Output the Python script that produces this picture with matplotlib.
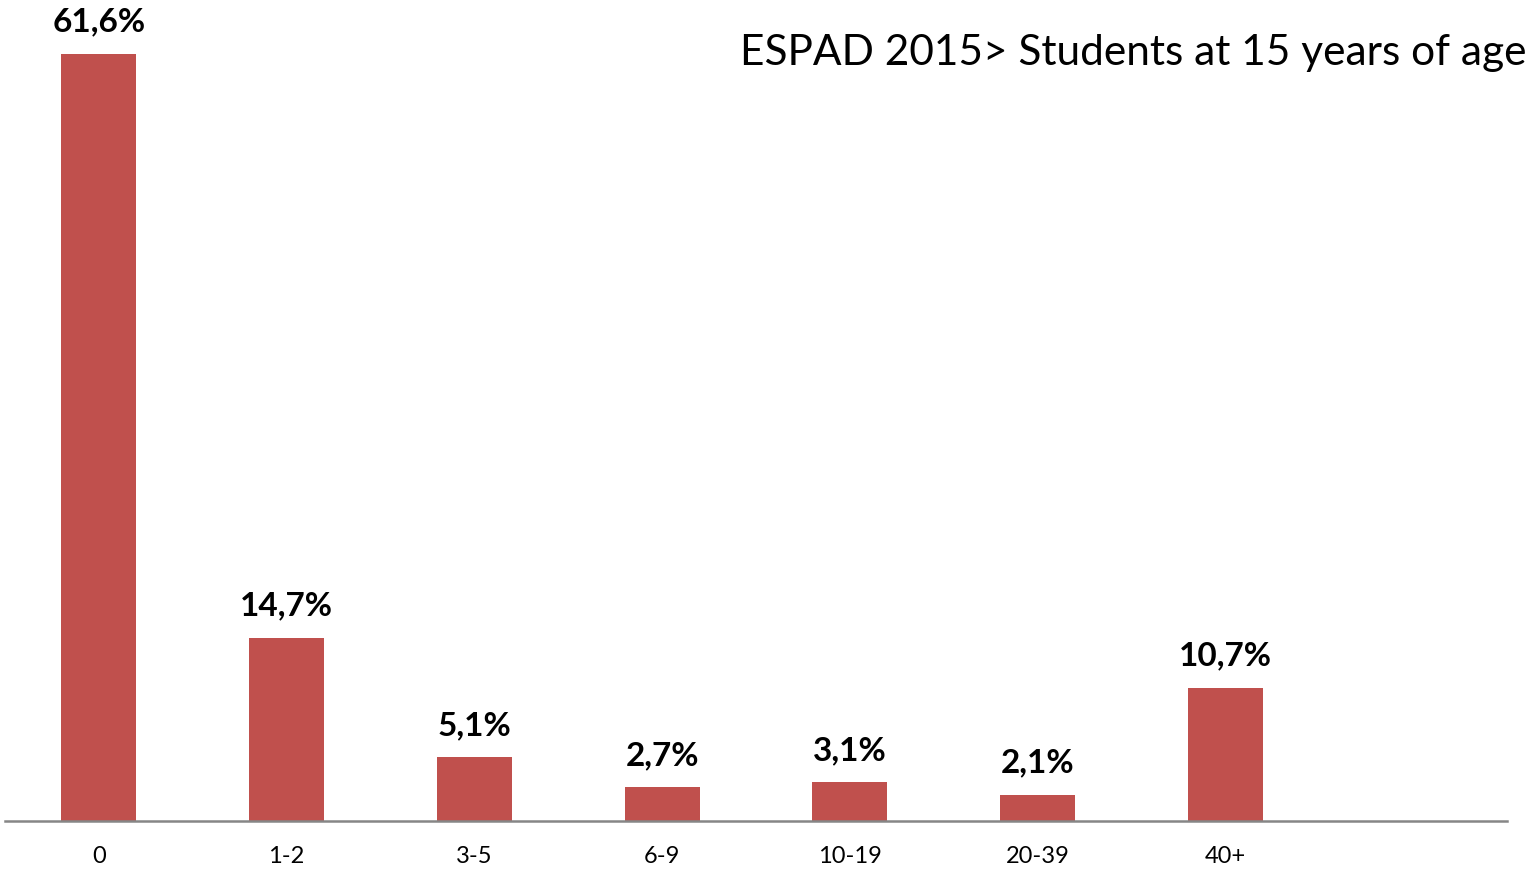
import numpy as np
import matplotlib.pyplot as plt

# datos
categorias = ["0", "1-2", "3-5", "6-9", "10-19", "20-39", "40+", ""]
valores = [61.6, 14.7, 5.1, 2.7, 3.1, 2.1, 10.7, None]
etiquetas = ["61,6%", "14,7%", "5,1%", "2,7%", "3,1%", "2,1%", "10,7%", ""]
titulo = "ESPAD 2015> Students at 15 years of age"

plt.rcParams['font.family'] = ['Lato', 'DejaVu Sans']

fig = plt.figure(figsize=(15.29, 8.69), dpi=100)
ax = fig.add_axes([5/1529, 1 - 821/869, 1502/1529, 821/869])

x = np.arange(len(categorias))
alturas = [v if v is not None else 0 for v in valores]
barras = ax.bar(x, alturas, width=0.4, color="#C0504D")

# etiquetas encima de cada barra
for xi, v, lab in zip(x, valores, etiquetas):
    if v is None:
        continue
    ax.annotate(lab, (xi, v), xytext=(0, 16), textcoords="offset points",
                ha="center", va="baseline", fontsize=24, fontweight="bold")

ax.set_xlim(-0.5, len(categorias) - 0.5)
ax.set_ylim(0, 65.9)
ax.set_xticks(x)
ax.set_xticklabels(categorias, fontsize=17)
ax.tick_params(axis="x", length=0, pad=18)
ax.set_yticks([])
for s in ["top", "right", "left"]:
    ax.spines[s].set_visible(False)
ax.spines["bottom"].set_color("#868686")
ax.spines["bottom"].set_linewidth(1.8)

fig.text(1527/1529, 1 - 65/869, titulo, ha="right", va="baseline", fontsize=30.5)

fig.savefig("out.png", dpi=100)
